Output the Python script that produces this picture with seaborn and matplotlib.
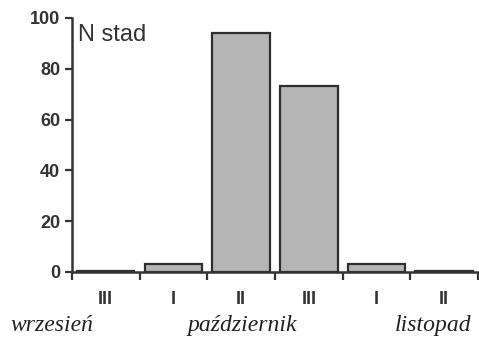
import numpy as np
import pandas as pd
import seaborn as sns
import matplotlib.pyplot as plt

# Data
periods = ['wrz-III', 'paz-I', 'paz-II', 'paz-III', 'lis-I', 'lis-II']
decades = ['III', 'I', 'II', 'III', 'I', 'II']
n_stad = [0.5, 3, 94, 73, 3, 0.5]
months = ['wrzesień', 'październik', 'listopad']

df = pd.DataFrame({'Period': periods, 'N': n_stad})

sns.set_style('ticks')
plt.rcParams['font.family'] = ['Liberation Sans', 'DejaVu Sans']

fig = plt.figure(figsize=(4.79, 3.43), dpi=100)
ax = fig.add_axes([0.150, 0.207, 0.848, 0.741])
sns.barplot(x='Period', y='N', data=df, order=periods, color='#b5b5b5',
            edgecolor='#2e2e2e', linewidth=1.6, width=0.85, saturation=1, ax=ax)

ax.set_xlim(-0.5, 5.5)
ax.set_ylim(0, 100)
ax.set_yticks(np.arange(0, 101, 20))
ax.tick_params(axis='y', labelsize=13, width=1.6, length=5, colors='#333333')
for lab in ax.get_yticklabels():
    lab.set_fontweight('bold')

# decade labels centred, ticks on the boundaries
ax.set_xticks(np.arange(6))
ax.set_xticklabels(decades, fontsize=13, fontweight='bold', color='#333333')
ax.tick_params(axis='x', which='major', length=0, pad=14)
ax.set_xticks(np.arange(-0.5, 6, 1), minor=True)
ax.tick_params(axis='x', which='minor', length=6, width=1.6, color='#333333')

ax.set_xlabel('')
ax.set_ylabel('')
for side in ['top', 'right']:
    ax.spines[side].set_visible(False)
for side in ['left', 'bottom']:
    ax.spines[side].set_linewidth(1.8)
    ax.spines[side].set_color('#333333')

ax.text(0.015, 0.975, 'N stad', transform=ax.transAxes, fontsize=17,
        va='top', ha='left', color='#333333')

for m, xm in zip(months, [0.109, 0.505, 0.904]):
    fig.text(xm, 0.052, m, fontsize=17, style='italic', ha='center', va='center',
             family=['Liberation Serif', 'DejaVu Serif'], color='#222222')

fig.savefig('out.png', dpi=100)
